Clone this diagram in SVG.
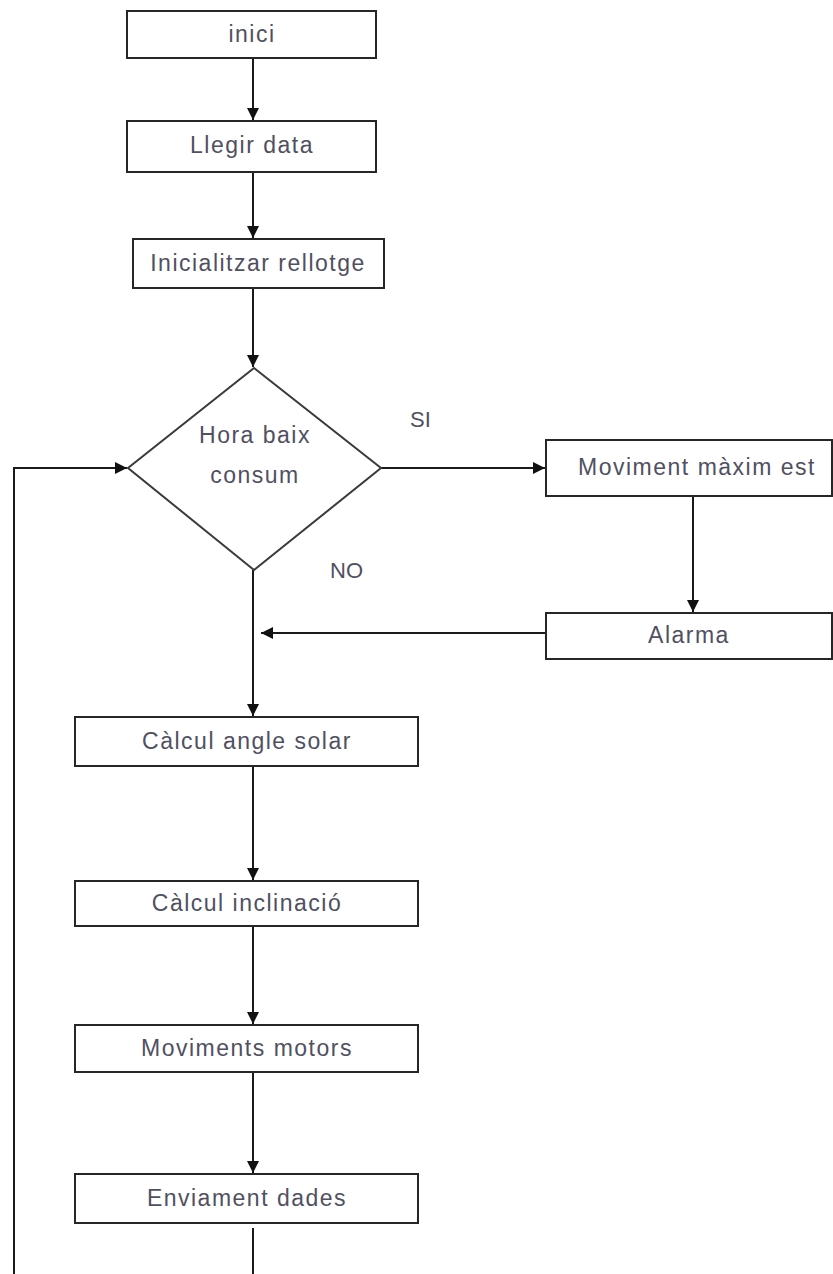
<svg xmlns="http://www.w3.org/2000/svg" width="833" height="1274" viewBox="0 0 833 1274">
<style>
.box{fill:#fff;stroke:#262626;stroke-width:2}
.t{font-family:"Liberation Sans",Arial,sans-serif;font-size:23px;letter-spacing:1.5px;fill:#505062;text-anchor:middle}
.lbl{font-family:"Liberation Sans",Arial,sans-serif;font-size:22px;fill:#505062}
.c{fill:none;stroke:#1a1a1a;stroke-width:2}
</style>
<defs>
<marker id="ah" viewBox="0 0 10 10" refX="10" refY="5" markerWidth="6" markerHeight="6" markerUnits="strokeWidth" orient="auto">
<path d="M0,0 L10,5 L0,10 z" fill="#111"/>
</marker>
</defs>
<rect width="833" height="1274" fill="#fff"/>
<g id="connectors">
<line class="c" x1="253" y1="58" x2="253" y2="120" marker-end="url(#ah)"/>
<line class="c" x1="253" y1="172" x2="253" y2="238" marker-end="url(#ah)"/>
<line class="c" x1="253" y1="288" x2="253" y2="367" marker-end="url(#ah)"/>
<line class="c" x1="381" y1="468" x2="545" y2="468" marker-end="url(#ah)"/>
<line class="c" x1="693" y1="496" x2="693" y2="612" marker-end="url(#ah)"/>
<line class="c" x1="546" y1="633" x2="261" y2="633" marker-end="url(#ah)"/>
<line class="c" x1="253" y1="570" x2="253" y2="716" marker-end="url(#ah)"/>
<line class="c" x1="253" y1="766" x2="253" y2="880" marker-end="url(#ah)"/>
<line class="c" x1="253" y1="926" x2="253" y2="1024" marker-end="url(#ah)"/>
<line class="c" x1="253" y1="1072" x2="253" y2="1173" marker-end="url(#ah)"/>
<line class="c" x1="253" y1="1228" x2="253" y2="1274"/>
<polyline class="c" points="14,1274 14,468 127,468" marker-end="url(#ah)"/>
</g>
<g id="inici">
<rect class="box" x="127" y="11" width="249" height="47"/>
<text class="t" x="252" y="42">inici</text>
</g>
<g id="llegir">
<rect class="box" x="127" y="121" width="249" height="51"/>
<text class="t" x="252" y="153">Llegir data</text>
</g>
<g id="inicialitzar">
<rect class="box" x="133" y="239" width="251" height="49"/>
<text class="t" x="258" y="271">Inicialitzar rellotge</text>
</g>
<g id="decisio">
<polygon points="254,368 381,468 254,570 128,468" fill="#fff" stroke="#3a3a3a" stroke-width="2"/>
<text class="t" x="255" y="443">Hora baix</text>
<text class="t" x="255" y="483">consum</text>
</g>
<g id="labels">
<text class="lbl" x="410" y="427">SI</text>
<text class="lbl" x="330" y="578">NO</text>
</g>
<g id="moviment">
<rect class="box" x="546" y="440" width="286" height="56"/>
<text class="t" x="697" y="475">Moviment màxim est</text>
</g>
<g id="alarma">
<rect class="box" x="546" y="613" width="286" height="46"/>
<text class="t" x="689" y="643">Alarma</text>
</g>
<g id="angle">
<rect class="box" x="75" y="717" width="343" height="49"/>
<text class="t" x="247" y="749">Càlcul angle solar</text>
</g>
<g id="inclinacio">
<rect class="box" x="75" y="881" width="343" height="45"/>
<text class="t" x="247" y="911">Càlcul inclinació</text>
</g>
<g id="motors">
<rect class="box" x="75" y="1025" width="343" height="47"/>
<text class="t" x="247" y="1056">Moviments motors</text>
</g>
<g id="enviament">
<rect class="box" x="75" y="1174" width="343" height="49"/>
<text class="t" x="247" y="1206">Enviament dades</text>
</g>
</svg>
